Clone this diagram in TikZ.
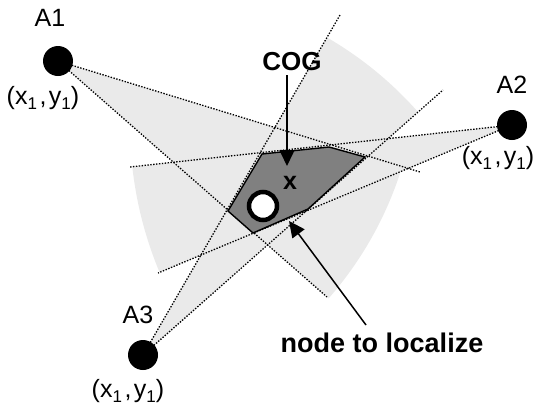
\documentclass[tikz,border=0pt]{standalone}
\usepackage{fontspec}
\setmainfont{Liberation Sans}
\usetikzlibrary{arrows.meta}
\definecolor{lightg}{RGB}{234,234,234}
\definecolor{darkg}{RGB}{128,128,128}
\newcommand{\subone}{\raisebox{-0.22em}{\fontsize{17}{17}\selectfont 1}}
\newcommand{\coordtxt}{(x\subone\kern2.5pt,\kern2.5pt y\subone)}
\begin{document}
\begin{tikzpicture}[x=1pt,y=-1pt,
  ray/.style={line width=1.3pt, dash pattern=on 1.4pt off 1.5pt},
  anchorpt/.style={circle, fill=black, minimum size=30pt, inner sep=0pt},
  lbl/.style={font=\fontsize{25}{29}\selectfont, inner sep=0pt},
  blbl/.style={font=\bfseries\fontsize{27}{31}\selectfont, inner sep=0pt},
  pointer/.style={line width=1.5pt, -{Triangle[length=16pt,width=15pt]}},
  region/.style={fill=darkg, draw=black, line width=1.4pt, line join=miter}]
\useasboundingbox (0,0) rectangle (534,410);
% anchor centres
\coordinate (c1) at (58,61);
\coordinate (c2) at (512,125);
\coordinate (c3) at (143,355);
% angular sectors
\fill[lightg] (c1) -- plot[domain=17.05:41.26,samples=40] ({58+360*cos(\x)},{61+360*sin(\x)}) -- cycle;
\fill[lightg] (c2) -- plot[domain=157.31:173.73,samples=40] ({512+382*cos(\x)},{125+382*sin(\x)}) -- cycle;
\fill[lightg] (c3) -- plot[domain=-59.91:-41.46,samples=40] ({143+367*cos(\x)},{355+367*sin(\x)}) -- cycle;
% ray end points
\coordinate (e1a) at (420,172);
\coordinate (e1b) at (327,297);
\coordinate (e2a) at (130,167);
\coordinate (e2b) at (158,273);
\coordinate (e3a) at (340,15);
\coordinate (e3b) at (443,90);
\draw[ray] (c1) -- (e1a);
\draw[ray] (c1) -- (e1b);
\draw[ray] (c2) -- (e2a);
\draw[ray] (c2) -- (e2b);
\draw[ray] (c3) -- (e3a);
\draw[ray] (c3) -- (e3b);
% intersection region
\draw[region] (262,154) -- (329,147) -- (365,157) -- (308,209) -- (253,233) -- (228,211) -- cycle;
% anchors
\node[anchorpt] (A1) at (c1) {};
\node[anchorpt] (A2) at (c2) {};
\node[anchorpt] (A3) at (c3) {};
\node[lbl] (A1n) at (50,18) {A1};
\node[lbl] (A2n) at (512,85) {A2};
\node[lbl] (A3n) at (138,315) {A3};
\node[lbl] (A1c) at (43,98) {\coordtxt};
\node[lbl] (A2c) at (498,158) {\coordtxt};
\node[lbl] (A3c) at (128,391) {\coordtxt};
% COG
\node[blbl, font=\bfseries\fontsize{26}{30}\selectfont] (cog) at (292,62) {COG};
\coordinate (cogtip) at (287,166);
\draw[pointer] ([yshift=-4pt]cog.south -| cogtip) -- (cogtip);
\node[blbl, font=\bfseries\fontsize{25}{30}\selectfont] (cogx) at (290,183) {x};
% node to localize
\node[circle, draw=black, line width=4.5pt, fill=white, minimum size=28pt, inner sep=0pt] (tgt) at (263,206) {};
\node[blbl] (loc) at (382,343) {node to localize};
\coordinate (locstart) at (366,325);
\coordinate (loctip) at (289,221);
\draw[pointer] (locstart) -- (loctip);
\end{tikzpicture}
\end{document}
